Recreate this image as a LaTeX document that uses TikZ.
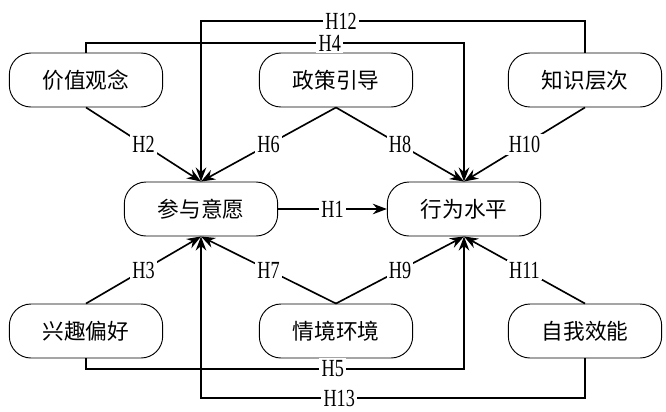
\documentclass[tikz,border=0pt]{standalone}
\usepackage{fontspec}
\newfontfamily\cjk{Noto Sans CJK SC}
\newfontfamily\hfont{Liberation Serif}
\usepackage{tikz}
\usetikzlibrary{arrows.meta,calc}
\newcommand{\hlab}[1]{\scalebox{0.74}[1]{#1}}

\tikzset{
  factor/.style={draw, line width=0.8pt, rounded corners=0.65cm,
    minimum width=4.6cm, minimum height=1.62cm, font=\cjk\fontsize{18.5}{20}\selectfont},
  arr/.style={line width=1.4pt, -{Stealth[length=12pt,width=9pt]}},
  lab/.style={fill=white, inner sep=2pt, font=\hfont\fontsize{21}{23}\selectfont}
}

\begin{document}
\begin{tikzpicture}[x=0.03cm,y=-0.03cm]
\useasboundingbox (0,0) rectangle (666,411);
% factors
\node[factor] (jz) at (86,80)   {价值观念};
\node[factor] (zc) at (336,80)  {政策引导};
\node[factor] (zs) at (585,80)  {知识层次};
\node[factor] (cy) at (201,209) {参与意愿};
\node[factor] (xw) at (464,209) {行为水平};
\node[factor] (xq) at (86,331)  {兴趣偏好};
\node[factor] (qj) at (336,331) {情境环境};
\node[factor] (zw) at (585,331) {自我效能};
% corners of the long paths
\coordinate (h12a) at (585,21);  \coordinate (h12b) at (201,21);
\coordinate (h4a)  at (86,43);   \coordinate (h4b)  at (464,43);
\coordinate (h5a)  at (86,369);  \coordinate (h5b)  at (464,369);
\coordinate (h13a) at (585,398); \coordinate (h13b) at (201,398);
% hypotheses
\draw[arr] (cy.east) -- node[lab] {\hlab{H1}} (xw.west);
\draw[arr] (jz.south) -- node[lab] {\hlab{H2}} (cy.north);
\draw[arr] (xq.north) -- node[lab] {\hlab{H3}} (cy.south);
\draw[arr] (zc.south) -- node[lab] {\hlab{H6}} (cy.north);
\draw[arr] (qj.north) -- node[lab] {\hlab{H7}} (cy.south);
\draw[arr] (zc.south) -- node[lab] {\hlab{H8}} (xw.north);
\draw[arr] (qj.north) -- node[lab] {\hlab{H9}} (xw.south);
\draw[arr] (zs.south) -- node[lab] {\hlab{H10}} (xw.north);
\draw[arr] (zw.north) -- node[lab] {\hlab{H11}} (xw.south);
\draw[arr] (jz.north) -- (h4a) -- node[lab, pos=0.645] {\hlab{H4}} (h4b) -- (xw.north);
\draw[arr] (xq.south) -- (h5a) -- node[lab, pos=0.653] {\hlab{H5}} (h5b) -- (xw.south);
\draw[arr] (zs.north) -- (h12a) -- node[lab, pos=0.635] {\hlab{H12}} (h12b) -- (cy.north);
\draw[arr] (zw.south) -- (h13a) -- node[lab, pos=0.64] {\hlab{H13}} (h13b) -- (cy.south);
\end{tikzpicture}
\end{document}
